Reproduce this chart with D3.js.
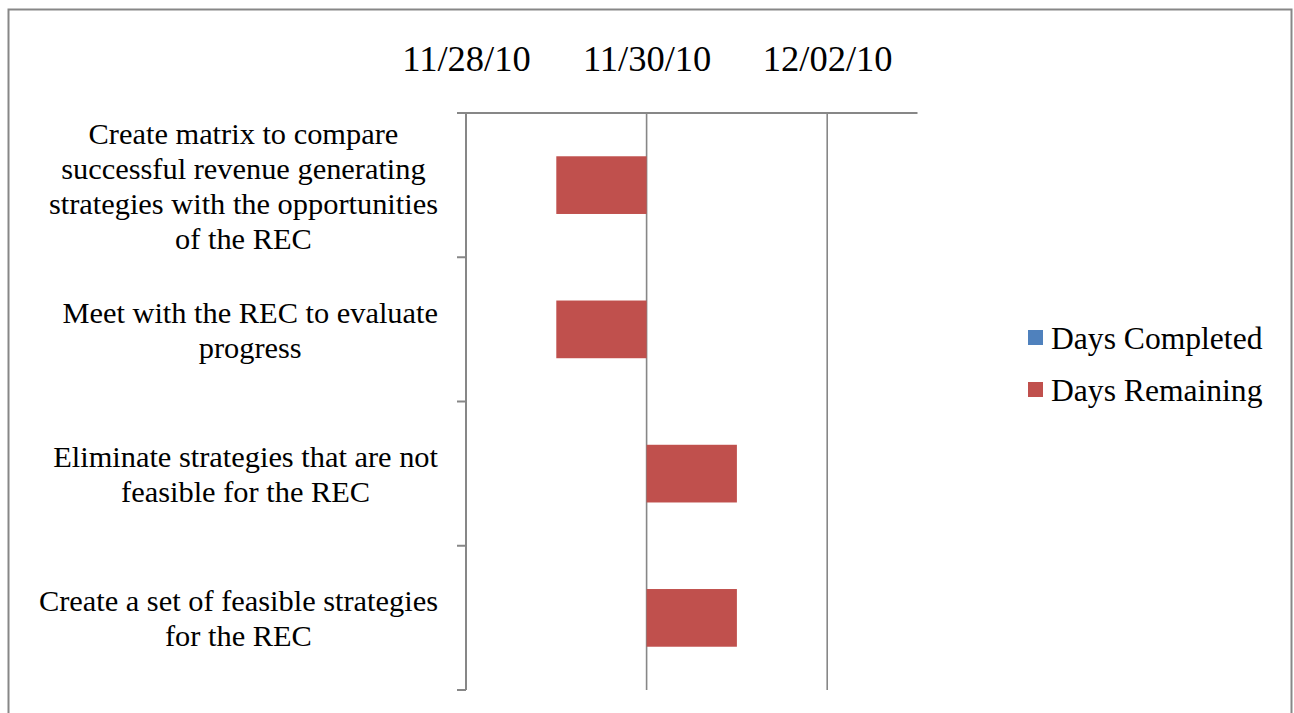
<!DOCTYPE html>
<html>
<head>
<meta charset="utf-8">
<script src="https://cdn.jsdelivr.net/npm/d3@7"></script>
<style>
  html, body { margin: 0; padding: 0; background: #fff; }
  svg { display: block; }
  text { font-family: "Liberation Serif", "Times New Roman", serif; fill: #000; }
</style>
</head>
<body>
<svg id="chart" width="1294" height="713"></svg>
<script>
// Task list (top to bottom), start dates and day counts
const tasks = [
  "Create matrix to compare successful revenue generating strategies with the opportunities of the REC",
  "Meet with the REC to evaluate progress",
  "Eliminate strategies that are not feasible for the REC",
  "Create a set of feasible strategies for the REC"
];
const startDates = ["2010-11-29", "2010-11-29", "2010-11-30", "2010-11-30"];
const daysCompleted = [0, 0, 0, 0];
const daysRemaining = [1, 1, 1, 1];

const seriesNames = ["Days Completed", "Days Remaining"];
const seriesColors = ["#4F81BD", "#C0504D"];

const axisStart = "2010-11-28";
const axisEnd = "2010-12-03";
const tickDates = ["2010-11-28", "2010-11-30", "2010-12-02"];

const parse = d3.utcParse("%Y-%m-%d");
const fmt = d3.utcFormat("%m/%d/%y");
const DAY = 864e5;

const rows = tasks.map((t, i) => ({
  task: t,
  start: parse(startDates[i]),
  completed: daysCompleted[i],
  remaining: daysRemaining[i]
}));

const svg = d3.select("#chart");
const gray = "#878787";

// outer frame
svg.append("rect")
  .attr("x", 8.5).attr("y", 9.5)
  .attr("width", 1283).attr("height", 730)
  .attr("fill", "none").attr("stroke", gray).attr("stroke-width", 2);

const plot = { left: 466, right: 917.5, top: 113, bottom: 690 };

const x = d3.scaleUtc()
  .domain([parse(axisStart), parse(axisEnd)])
  .range([plot.left, plot.right]);

const y = d3.scaleBand()
  .domain(tasks)
  .range([plot.top, plot.bottom])
  .paddingInner(0.6)
  .paddingOuter(0.3);

// vertical gridlines at the major ticks
svg.append("g")
  .selectAll("line")
  .data(tickDates.slice(1).map(parse))
  .join("line")
  .attr("x1", d => x(d)).attr("x2", d => x(d))
  .attr("y1", plot.top).attr("y2", plot.bottom)
  .attr("stroke", gray).attr("stroke-width", 1.6);

// stacked bars: offset by start date, then completed, then remaining
const stack = d3.stack().keys(["completed", "remaining"]);
const layers = stack(rows);

svg.append("g")
  .selectAll("g")
  .data(layers)
  .join("g")
  .attr("fill", (d, i) => seriesColors[i])
  .selectAll("rect")
  .data(d => d.map(v => ({ v, row: v.data })))
  .join("rect")
  .attr("x", d => x(new Date(+d.row.start + d.v[0] * DAY)))
  .attr("width", d => x(new Date(+d.row.start + d.v[1] * DAY)) - x(new Date(+d.row.start + d.v[0] * DAY)))
  .attr("y", d => y(d.row.task))
  .attr("height", y.bandwidth());

// top date axis (labels only, no tick marks)
const xAxis = d3.axisTop(x)
  .tickValues(tickDates.map(parse))
  .tickFormat(fmt)
  .tickSize(0)
  .tickPadding(0);

const gx = svg.append("g")
  .attr("transform", `translate(0,${plot.top})`)
  .call(xAxis);
gx.select(".domain").remove();
gx.selectAll("text")
  .attr("y", 71 - plot.top)
  .attr("dy", 0)
  .style("font-family", "'Liberation Serif', 'Times New Roman', serif")
  .style("font-size", "36.5px")
  .attr("fill", "#000");

// top axis line
svg.append("line")
  .attr("x1", 457).attr("x2", plot.right)
  .attr("y1", plot.top).attr("y2", plot.top)
  .attr("stroke", gray).attr("stroke-width", 2);

// left category axis with tick marks on band boundaries
svg.append("line")
  .attr("x1", plot.left).attr("x2", plot.left)
  .attr("y1", plot.top).attr("y2", plot.bottom)
  .attr("stroke", gray).attr("stroke-width", 2);

const step = y.step();
const boundaries = d3.range(tasks.length + 1).map(i => plot.top + i * step);
svg.append("g")
  .selectAll("line")
  .data(boundaries)
  .join("line")
  .attr("x1", 457).attr("x2", plot.left)
  .attr("y1", d => d).attr("y2", d => d)
  .attr("stroke", gray).attr("stroke-width", 2);

// wrapped category labels, each line centred within the label block
const labelSize = 30.4;
const lineH = 35;
const maxWrap = 400;
const labelRight = 438;

const measurer = svg.append("text").style("font-size", labelSize + "px");
function width(s) { measurer.text(s); return measurer.node().getComputedTextLength(); }
function wrap(s) {
  const words = s.split(" ");
  const lines = [];
  let cur = "";
  for (const w of words) {
    const trial = cur ? cur + " " + w : w;
    if (cur && width(trial) > maxWrap) { lines.push(cur); cur = w; }
    else cur = trial;
  }
  if (cur) lines.push(cur);
  return lines;
}

const labels = svg.append("g");
tasks.forEach(t => {
  const lines = wrap(t);
  const w = d3.max(lines, width);
  const cx = labelRight - w / 2;
  const cy = y(t) + y.bandwidth() / 2;
  const first = cy - (lines.length - 1) * lineH / 2 + 11;
  labels.append("text")
    .attr("text-anchor", "middle")
    .style("font-size", labelSize + "px")
    .selectAll("tspan")
    .data(lines)
    .join("tspan")
    .attr("x", cx)
    .attr("y", (d, i) => first + i * lineH)
    .text(d => d);
});
measurer.remove();

// legend
const legend = svg.append("g").attr("transform", "translate(1028,330)");
const item = legend.selectAll("g")
  .data(seriesNames)
  .join("g")
  .attr("transform", (d, i) => `translate(0,${i * 52})`);
item.append("rect")
  .attr("width", 15).attr("height", 15)
  .attr("fill", (d, i) => seriesColors[i]);
item.append("text")
  .attr("x", 23).attr("y", 18.5)
  .style("font-size", "31.6px")
  .text(d => d);
</script>
</body>
</html>
